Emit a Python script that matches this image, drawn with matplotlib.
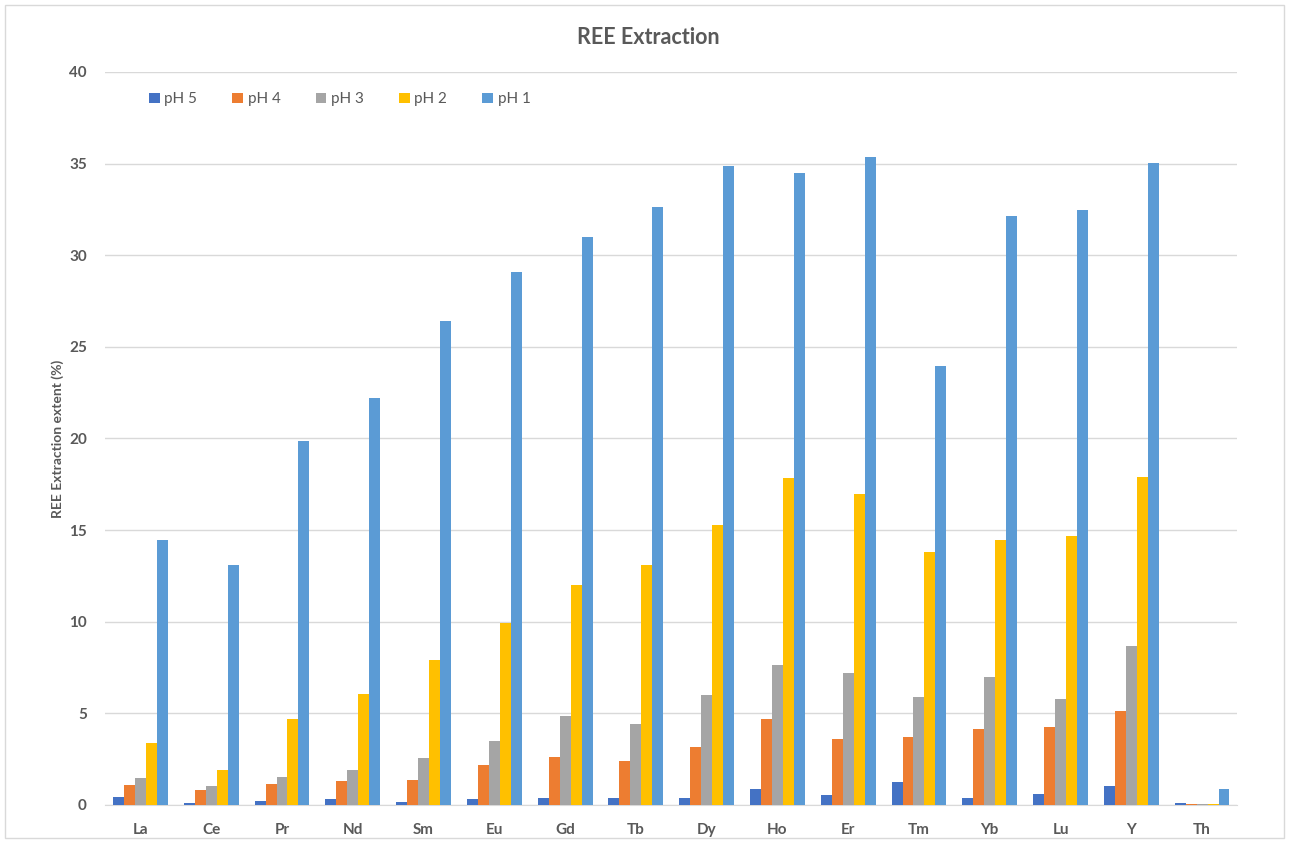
import numpy as np
import matplotlib
matplotlib.use('Agg')
import matplotlib.pyplot as plt
from matplotlib.patches import Rectangle

# --- data ---
elements = ['La', 'Ce', 'Pr', 'Nd', 'Sm', 'Eu', 'Gd', 'Tb',
            'Dy', 'Ho', 'Er', 'Tm', 'Yb', 'Lu', 'Y', 'Th']
series_names = ['pH 5', 'pH 4', 'pH 3', 'pH 2', 'pH 1']

ph5 = [0.45, 0.09, 0.24, 0.31, 0.16, 0.31, 0.38, 0.38,
       0.38, 0.87, 0.53, 1.24, 0.38, 0.60, 1.04, 0.09]
ph4 = [1.09, 0.80, 1.16, 1.31, 1.38, 2.16, 2.60, 2.38,
       3.18, 4.69, 3.62, 3.69, 4.13, 4.25, 5.13, 0.08]
ph3 = [1.45, 1.02, 1.53, 1.89, 2.55, 3.47, 4.84, 4.40,
       5.98, 7.64, 7.20, 5.91, 6.98, 5.76, 8.70, 0.07]
ph2 = [3.38, 1.89, 4.67, 6.05, 7.90, 9.93, 12.00, 13.09,
       15.27, 17.84, 16.97, 13.80, 14.46, 14.68, 17.89, 0.06]
ph1 = [14.45, 13.10, 19.86, 22.20, 26.40, 29.08, 30.99, 32.62,
       34.86, 34.48, 35.35, 23.95, 32.13, 32.46, 35.02, 0.87]

colors = ['#4472C4', '#ED7D31', '#A5A5A5', '#FFC000', '#5B9BD5']
text_color = '#595959'

plt.rcParams['font.family'] = ['Lato', 'DejaVu Sans']

fig = plt.figure(figsize=(12.89, 8.43), dpi=100)
ax = fig.add_axes([0.0815, 0.0451, 0.8785, 0.8695])

# outer chart border
fig.patches.append(Rectangle((0.004, 0.006), 0.992, 0.988, transform=fig.transFigure,
                             fill=False, edgecolor='#D9D9D9', linewidth=1))

x = np.arange(len(elements))
w = 0.155
for i, (vals, name) in enumerate(zip([ph5, ph4, ph3, ph2, ph1], series_names)):
    ax.bar(x + (i - 2) * w, vals, w, color=colors[i], label=name, zorder=3)

ax.set_xlim(-0.5, len(elements) - 0.5)
ax.set_ylim(0, 40)
ax.set_yticks(np.arange(0, 41, 5))
ax.set_xticks(x)
ax.set_xticklabels(elements)
ax.yaxis.grid(True, color='#D9D9D9', linewidth=1, zorder=0)
for s in ['top', 'right', 'left']:
    ax.spines[s].set_visible(False)
ax.spines['bottom'].set_color('#D9D9D9')
ax.tick_params(axis='both', length=0, labelsize=11, colors=text_color)
ax.tick_params(axis='x', pad=13)
ax.tick_params(axis='y', pad=13)
for lbl in ax.get_xticklabels() + ax.get_yticklabels():
    lbl.set_fontweight('bold')

ax.set_ylabel('REE Extraction extent (%)', fontsize=10, fontweight='bold',
              color=text_color, labelpad=4)
fig.text(0.503, 0.955, 'REE Extraction', ha='center', va='center',
         fontsize=15.5, fontweight='bold', color=text_color)

leg = ax.legend(loc='center left', bbox_to_anchor=(0.105, 0.882), bbox_transform=fig.transFigure,
                ncol=5, frameon=False, fontsize=11, handlelength=0.7, handleheight=0.7,
                handletextpad=0.3, columnspacing=2.3)
for t in leg.get_texts():
    t.set_color(text_color)

fig.savefig('out.png', dpi=100)
